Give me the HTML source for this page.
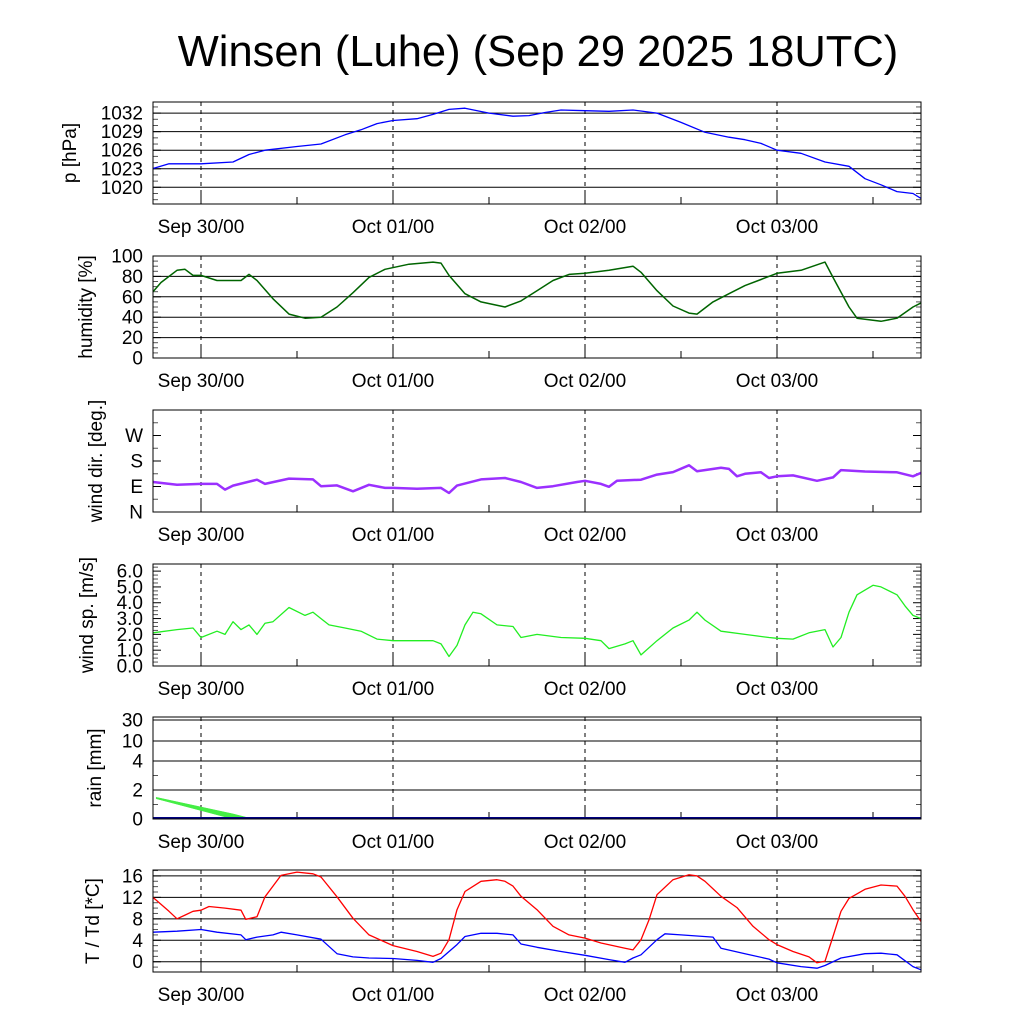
<!DOCTYPE html>
<html><head><meta charset="utf-8"><style>
html,body{margin:0;padding:0;background:#fff;}
svg{display:block;font-family:"Liberation Sans",sans-serif;}
</style></head><body>
<svg id="chart" width="1024" height="1024" xmlns="http://www.w3.org/2000/svg">
<text x="538" y="66" font-size="43.5" text-anchor="middle">Winsen (Luhe) (Sep 29 2025 18UTC)</text>
</svg>
<script>
// hours relative to Sep 30 00UTC
const dayTicks = [0, 24, 48, 72];
const dayLabels = ["Sep 30/00", "Oct 01/00", "Oct 02/00", "Oct 03/00"];

const pHours = [-6,-4,0,4,6,8,12,15,18,20,22,24,27,29,31,33,36,39,41,43,45,48,51,54,57,60,63,66,68,70,72,75,78,81,83,85,87,89,90];
const pVals = [1023.05,1023.8,1023.8,1024.1,1025.3,1026.0,1026.6,1027.0,1028.5,1029.3,1030.3,1030.8,1031.1,1031.8,1032.6,1032.8,1032.0,1031.5,1031.6,1032.1,1032.5,1032.4,1032.3,1032.5,1032.0,1030.5,1028.9,1028.1,1027.7,1027.1,1026.0,1025.5,1024.1,1023.4,1021.4,1020.4,1019.3,1019.0,1018.2];

const hHours = [-6,-5,-3,-2,-1,0,2,5,6,7,9,11,13,15,17,19,21,23,26,29,30,31,33,35,38,40,42,44,46,48,51,54,55,57,59,61,62,64,66,68,70,72,75,78,79,81,82,85,87,89,90];
const hVals = [65,74,86,87,81,81,76,76,82,76,58,43,39,40,50,64,79,87,92,94,93,81,63,55,50,56,66,76,82,83,86,90,84,66,51,44,43,55,63,71,77,83,86,94,79,50,39,36,39,50,54];

const dHours = [-6,-3,0,2,3,4,7,8,11,14,15,17,19,21,23,24,27,30,31,32,35,38,40,42,44,47,48,50,51,52,55,57,59,61,62,65,66,67,68,70,71,72,74,77,79,80,83,87,89,90];
const dVals = [106,96,99,99,79,93,114,99,118,115,91,94,73,96,85,85,82,85,67,93,115,120,106,85,91,106,110,99,89,110,114,132,141,165,144,156,152,126,135,140,120,126,129,110,122,148,143,140,126,138];

const sHours = [-6,-3,-1,0,2,3,4,5,6,7,8,9,11,13,14,15,16,18,20,22,24,27,29,30,31,32,33,34,35,37,39,40,42,45,48,50,51,53,54,55,57,59,61,62,63,65,68,71,72,74,76,78,79,80,81,82,84,85,87,88,89,90];
const sVals = [2.1,2.3,2.4,1.8,2.2,2.0,2.8,2.3,2.6,2.0,2.7,2.8,3.7,3.2,3.4,3.0,2.6,2.4,2.2,1.7,1.6,1.6,1.6,1.4,0.6,1.3,2.6,3.4,3.3,2.6,2.5,1.8,2.0,1.8,1.75,1.6,1.1,1.4,1.6,0.7,1.6,2.4,2.9,3.4,2.9,2.2,2.0,1.8,1.75,1.7,2.1,2.3,1.2,1.8,3.4,4.5,5.1,5.0,4.5,3.8,3.2,3.0];

const rainHours = [-5.6, 4.0, 6.5];
const rainUpper = [1.5, 0.35, 0];
const rainLower = [1.4, 0, 0];

const tHours = [-6,-4,-3,-2,-1,0,1,3,5,5.6,7,8,10,12,14,15,17,19,21,24,27,29,30,31,32,33,35,37,38,39,40,42,44,46,48,50,53,54,55,56,57,59,61,62,63,65,67,69,71,72,74,76,77,78,79,80,81,83,85,87,88,89,90];
const tVals = [12,9.4,8.0,8.7,9.4,9.6,10.3,10,9.6,7.9,8.4,12.1,16.1,16.7,16.4,15.8,12.1,8.1,5.0,3.0,1.9,1.0,1.6,4.1,9.7,13.1,15.0,15.3,15.0,14.1,12.2,9.7,6.6,5.0,4.4,3.5,2.5,2.2,4.1,7.8,12.5,15.3,16.2,16.0,15,12.2,10.1,6.6,4.1,3.2,1.9,0.9,-0.2,0.1,4.7,9.4,11.8,13.5,14.3,14.1,12.2,9.7,7.5];
const tdHours = [-6,-3,0,2,5,5.6,7,9,10,12,15,17,19,21,24,27,29,30,32,33,35,37,39,40,42,45,48,51,53,54,55,57,58,60,62,64,65,68,71,72,75,77,78,80,83,85,87,89,90];
const tdVals = [5.5,5.7,6.0,5.5,5.0,4.1,4.6,5.0,5.5,5.0,4.2,1.5,0.9,0.7,0.6,0.25,-0.1,0.6,3.2,4.7,5.3,5.3,5.0,3.3,2.7,1.9,1.2,0.4,-0.1,0.7,1.3,4.1,5.2,5.0,4.8,4.6,2.5,1.5,0.5,-0.2,-0.9,-1.2,-0.7,0.7,1.5,1.6,1.3,-0.9,-1.5];

const NS = "http://www.w3.org/2000/svg";
const svg = document.getElementById("chart");
const X0 = 153, X1 = 921, H0 = -6, H1 = 90;
const xs = h => X0 + (h - H0) * (X1 - X0) / (H1 - H0);
function mk(tag, attrs, parent) {
  const e = document.createElementNS(NS, tag);
  for (const k in attrs) e.setAttribute(k, attrs[k]);
  (parent || svg).appendChild(e);
  return e;
}
function linY(top, bot, vmin, vmax) { return v => bot - (v - vmin) * (bot - top) / (vmax - vmin); }
function rainY(top, bot) {
  const vs = [0, 2, 4, 10, 30, 40], ys = [819, 790, 761, 741, 720, 713];
  return v => { for (let i = 0; i < vs.length - 1; i++) if (v <= vs[i+1]) return ys[i] + (v - vs[i]) * (ys[i+1] - ys[i]) / (vs[i+1] - vs[i]); return ys[ys.length-1]; };
}

const panels = [
  {name:"pressure", top:102, title:"p [hPa]", tx:76, y:linY(102,204,1017.3,1033.8), ticks:[1020,1023,1026,1029,1032], labels:["1020","1023","1026","1029","1032"], minor:[1018,1019,1021,1022,1024,1025,1027,1028,1030,1031,1033], grid:[1020,1023,1026,1029,1032]},
  {name:"humidity", top:256, title:"humidity [%]", tx:92, y:linY(256,358,0,100), ticks:[0,20,40,60,80,100], labels:["0","20","40","60","80","100"], minor:[5,10,15,25,30,35,45,50,55,65,70,75,85,90,95], grid:[20,40,60,80]},
  {name:"wind-direction", top:410, title:"wind dir. [deg.]", tx:102, y:linY(410,512,0,360), ticks:[0,90,180,270], labels:["N","E","S","W"], minor:[45,135,225,315], grid:[]},
  {name:"wind-speed", top:564, title:"wind sp. [m/s]", tx:93, y:linY(564,666,0,6.45), ticks:[0,1,2,3,4,5,6], labels:["0.0","1.0","2.0","3.0","4.0","5.0","6.0"], minor:[0.25,0.5,0.75,1.25,1.5,1.75,2.25,2.5,2.75,3.25,3.5,3.75,4.25,4.5,4.75,5.25,5.5,5.75,6.25], grid:[]},
  {name:"rain", top:717, title:"rain [mm]", tx:101, y:rainY(717,819), ticks:[0,2,4,10,30], labels:["0","2","4","10","30"], minor:[1,3], grid:[2,4,10,30]},
  {name:"temperature", top:870, title:"T / Td [*C]", tx:99, y:linY(870,973,-2.1,17.1), ticks:[0,4,8,12,16], labels:["0","4","8","12","16"], minor:[-1,1,2,3,5,6,7,9,10,11,13,14,15,17], grid:[0,4,8,12,16]}
];

function line(hs, vs, y, color, name, w) {
  const pts = hs.map((h, i) => xs(h).toFixed(1) + "," + y(vs[i]).toFixed(1)).join(" ");
  const p = mk("polyline", {points: pts, fill: "none", stroke: color, "stroke-width": w || 1.3, "stroke-linejoin": "round"});
  
  
}

panels.forEach((P, idx) => {
  const top = P.top, bot = top + 102;
  const g = mk("g", {});
  
  
  P.grid.forEach((v, i) => {
    const yy = P.y(v);
    const gl = mk("line", {x1: X0, x2: X1, y1: yy, y2: yy, stroke: "#000", "stroke-width": 1}, g);
    
    
  });
  dayTicks.forEach(h => {
    const dl = mk("line", {x1: xs(h), x2: xs(h), y1: top, y2: bot, stroke: "#000", "stroke-width": 1, "stroke-dasharray": "4,4"}, g);
    
    
    mk("line", {x1: xs(h), x2: xs(h), y1: bot - 12, y2: bot, stroke: "#000", "stroke-width": 1}, g);
    mk("line", {x1: xs(h + 12), x2: xs(h + 12), y1: bot - 7, y2: bot, stroke: "#000", "stroke-width": 1}, g);
  });
  P.ticks.forEach((v, i) => {
    const yy = P.y(v);
    mk("line", {x1: X0, x2: X0 + 8, y1: yy, y2: yy, stroke: "#000"}, g);
    mk("line", {x1: X1 - 8, x2: X1, y1: yy, y2: yy, stroke: "#000"}, g);
    const t = mk("text", {x: 143, y: yy + 6.5, "font-size": 19, "text-anchor": "end"}, g);
    t.textContent = P.labels[i];
    
    
  });
  P.minor.forEach(v => {
    const yy = P.y(v);
    mk("line", {x1: X0, x2: X0 + 5, y1: yy, y2: yy, stroke: "#555"}, g);
    mk("line", {x1: X1 - 5, x2: X1, y1: yy, y2: yy, stroke: "#555"}, g);
  });
  const cy = top + 51;
  const at = mk("text", {x: P.tx, y: cy, "font-size": 19, "text-anchor": "middle", transform: `rotate(-90 ${P.tx} ${cy})`}, g);
  at.textContent = P.title;
  
  
  dayTicks.forEach((h, i) => {
    const t = mk("text", {x: xs(h), y: bot + 29, "font-size": 19, "text-anchor": "middle"}, g);
    t.textContent = dayLabels[i];
    
    
  });
});

line(pHours, pVals, panels[0].y, "#0000ff", "pressure-line");
line(hHours, hVals, panels[1].y, "#006400", "humidity-line", 1.5);
line(dHours, dVals, panels[2].y, "#9b30ff", "wind-direction-line", 2.5);
line(sHours, sVals, panels[3].y, "#22ee22", "wind-speed-line");
{
  const y = panels[4].y;
  const up = rainHours.map((h, i) => xs(h).toFixed(1) + "," + y(rainUpper[i]).toFixed(1));
  const lo = rainHours.map((h, i) => xs(h).toFixed(1) + "," + y(rainLower[i]).toFixed(1)).reverse();
  const poly = mk("polygon", {points: up.concat(lo).join(" "), fill: "#44ee44", stroke: "#44ee44", "stroke-width": 0.5});
  
  
  const z = mk("line", {x1: X0, x2: X1, y1: y(0) - 1, y2: y(0) - 1, stroke: "#000080", "stroke-width": 2});
  
  
}
line(tHours, tVals, panels[5].y, "#ff0000", "temperature-line");
line(tdHours, tdVals, panels[5].y, "#0000ff", "dewpoint-line");

panels.forEach(P => {
  const r = mk("rect", {x: X0, y: P.top, width: X1 - X0, height: 102, fill: "none", stroke: "#000", "stroke-width": 1});
  
  
});
</script>
</body></html>
